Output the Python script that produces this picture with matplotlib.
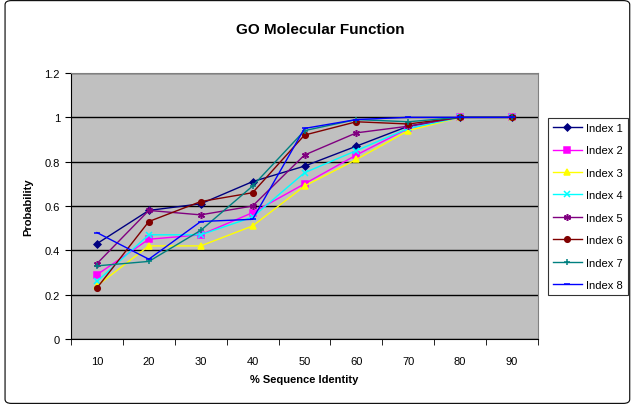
import matplotlib
matplotlib.use('Agg')
import matplotlib.pyplot as plt
from matplotlib.patches import FancyBboxPatch

plt.rcParams['font.family'] = ['Liberation Sans', 'DejaVu Sans']

identity = [10, 20, 30, 40, 50, 60, 70, 80, 90]

index1 = [0.43, 0.58, 0.61, 0.71, 0.78, 0.87, 0.96, 1.00, 1.00]
index2 = [0.29, 0.45, 0.47, 0.57, 0.70, 0.83, 0.95, 1.00, 1.00]
index3 = [0.24, 0.42, 0.42, 0.51, 0.69, 0.81, 0.94, 1.00, 1.00]
index4 = [0.26, 0.47, 0.47, 0.55, 0.75, 0.85, 0.95, 1.00, 1.00]
index5 = [0.34, 0.58, 0.56, 0.60, 0.83, 0.93, 0.96, 1.00, 1.00]
index6 = [0.23, 0.53, 0.62, 0.66, 0.92, 0.98, 0.97, 1.00, 1.00]
index7 = [0.33, 0.35, 0.49, 0.69, 0.94, 0.99, 0.98, 1.00, 1.00]
index8 = [0.48, 0.36, 0.53, 0.54, 0.95, 0.99, 1.00, 1.00, 1.00]

series = [
    ('Index 1', index1, '#000080', 'D', 3.5),
    ('Index 2', index2, '#FF00FF', 's', 4),
    ('Index 3', index3, '#FFFF00', '^', 5),
    ('Index 4', index4, '#00FFFF', 'x', 4),
    ('Index 5', index5, '#800080', (6, 2, 0), 5),
    ('Index 6', index6, '#800000', 'o', 4),
    ('Index 7', index7, '#008080', '+', 5),
    ('Index 8', index8, '#0000FF', '_', 5),
]

fig = plt.figure(figsize=(6.31, 4.06), dpi=100)
ax = fig.add_axes([71/631, 1 - 340/406, (538-71)/631, (340-74)/406])
ax.set_facecolor('#C0C0C0')

pos = list(range(1, len(identity) + 1))
for name, vals, col, mk, ms in series:
    ax.plot(pos, vals, color=col, marker=mk, markersize=ms, linewidth=1,
            markeredgewidth=1.1, label=name)

ax.set_xlim(0.5, len(identity) + 0.5)
ax.set_ylim(0, 1.2)
ax.set_yticks([0, 0.2, 0.4, 0.6, 0.8, 1.0, 1.2])
ax.set_yticklabels(['0', '0.2', '0.4', '0.6', '0.8', '1', '1.2'])
ax.set_xticks(pos)
ax.set_xticklabels([str(v) for v in identity])
ax.set_xticks([p + 0.5 for p in [0] + pos], minor=True)
ax.tick_params(axis='x', which='major', length=0, pad=12, labelsize=8)
ax.tick_params(axis='x', which='minor', length=4, direction='out', color='black')
ax.tick_params(axis='y', length=4, direction='out', labelsize=8, pad=4)
ax.grid(True, axis='y', color='black', linewidth=1)
ax.set_axisbelow(True)
for side in ['top', 'right']:
    ax.spines[side].set_color('#808080')
for side in ['left', 'bottom']:
    ax.spines[side].set_color('black')

ax.set_xlabel('% Sequence Identity', fontsize=8, fontweight='bold', labelpad=6)
ax.set_ylabel('Probability', fontsize=8, fontweight='bold', labelpad=8)
fig.text(320/631, 1 - 30/406, 'GO Molecular Function', ha='center', va='center',
         fontsize=11, fontweight='bold')

leg = fig.legend(loc='upper left', bbox_to_anchor=(548/631, 1 - 119/406),
                 fontsize=8, frameon=True, fancybox=False, edgecolor='black',
                 labelspacing=1.12, handlelength=2.6, borderpad=0.45,
                 handletextpad=0.35, borderaxespad=0)
leg.get_frame().set_linewidth(0.8)

fig.patches.append(FancyBboxPatch((0.008, 0.004), 0.99, 0.992,
                                  boxstyle='round,pad=0,rounding_size=0.01',
                                  transform=fig.transFigure, fill=False,
                                  edgecolor='black', linewidth=0.8))

fig.savefig('out.png', dpi=100)
